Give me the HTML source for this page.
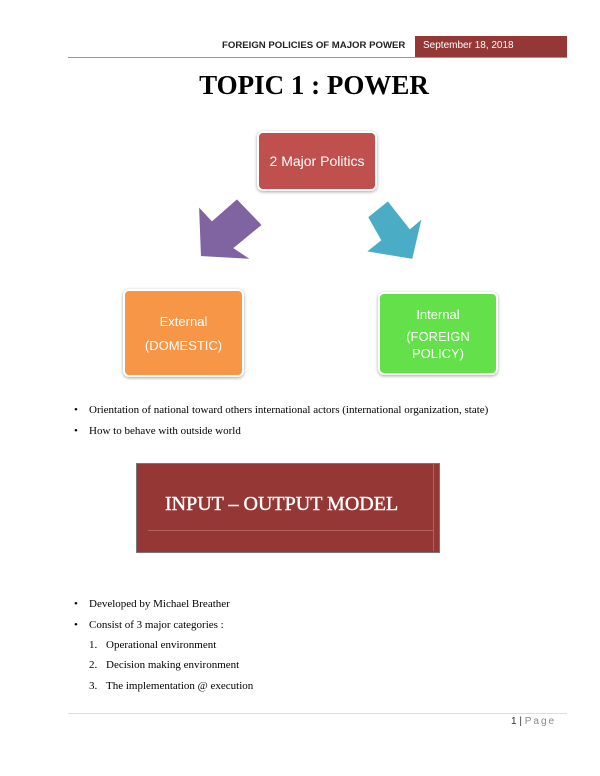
<!DOCTYPE html>
<html><head><style>
body{margin:0;width:600px;height:776px;background:#fff;position:relative;font-family:"Liberation Serif",serif;overflow:hidden}
.a{position:absolute;white-space:nowrap}
.box{position:absolute;border-radius:6px;border:2px solid #fff;box-shadow:0 1px 3px rgba(0,0,0,.35);color:#fff;font-family:"Liberation Sans",sans-serif;text-align:center;display:flex;align-items:center;justify-content:center;flex-direction:column;font-size:13px;line-height:19px}
.t{font-size:11px;color:#000}
</style></head><body>
<div class="a" style="left:222px;top:40px;font-family:'Liberation Sans',sans-serif;font-size:9.6px;font-weight:bold;color:#222">FOREIGN POLICIES OF MAJOR POWER</div>
<div class="a" style="left:415px;top:36px;width:152px;height:21px;background:#953735"></div>
<div class="a" style="left:423px;top:40px;font-family:'Liberation Sans',sans-serif;font-size:10px;color:#fff">September 18, 2018</div>
<div class="a" style="left:68px;top:57px;width:499px;height:1px;background:#999"></div>
<div class="a" style="left:0;width:628px;text-align:center;top:70px;font-size:27px;font-weight:bold;color:#000">TOPIC 1 : POWER</div>
<div class="box" style="left:257px;top:131px;width:116px;height:56px;background:#c0504d;font-size:14px">2 Major Politics</div>
<svg class="a" style="left:0;top:0" width="600" height="400">
<polygon points="198,205 212,220 237,198 263,225 235,248 253,260 200,257" fill="#8064a2" stroke="#fff" stroke-width="2"/>
<polygon points="367,217 388,200 410,228 423,217 413,260 365,252 380,240" fill="#4bacc6" stroke="#fff" stroke-width="2"/>
</svg>
<div class="box" style="left:123px;top:289px;width:117px;height:84px;background:#f79646"><div>External</div><div style="margin-top:5px">(DOMESTIC)</div></div>
<div class="box" style="left:378px;top:292px;width:116px;height:79px;background:#63e04a"><div>Internal</div><div style="margin-top:4px;line-height:17px">(FOREIGN<br>POLICY)</div></div>
<div class="a t" style="left:74px;top:404px">•</div><div class="a t" style="left:89px;top:404px">Orientation of national toward others international actors (international organization, state)</div>
<div class="a t" style="left:74px;top:425px">•</div><div class="a t" style="left:89px;top:425px">How to behave with outside world</div>
<div class="a" style="left:136px;top:463px;width:302px;height:88px;background:#953735;border:1px solid #777"></div>
<div class="a" style="left:148px;top:530px;width:285px;height:1px;background:#b5605d"></div>
<div class="a" style="left:433px;top:464px;width:1px;height:87px;background:#b5605d"></div>
<div class="a" style="left:165px;top:493px;font-size:20px;color:#fff;-webkit-text-stroke:0.4px #fff">INPUT – OUTPUT MODEL</div>
<div class="a t" style="left:74px;top:598px">•</div><div class="a t" style="left:89px;top:598px">Developed by Michael Breather</div>
<div class="a t" style="left:74px;top:619px">•</div><div class="a t" style="left:89px;top:619px">Consist of 3 major categories :</div>
<div class="a t" style="left:89px;top:639px">1.</div><div class="a t" style="left:106px;top:639px">Operational environment</div>
<div class="a t" style="left:89px;top:659px">2.</div><div class="a t" style="left:106px;top:659px">Decision making environment</div>
<div class="a t" style="left:89px;top:680px">3.</div><div class="a t" style="left:106px;top:680px">The implementation @ execution</div>
<div class="a" style="left:68px;top:713px;width:499px;height:1px;background:#ddd"></div>
<div class="a" style="left:511px;top:716px;font-family:'Liberation Sans',sans-serif;font-size:10px;color:#333">1 | <span style="color:#888;letter-spacing:2px">Page</span></div>
</body></html>
